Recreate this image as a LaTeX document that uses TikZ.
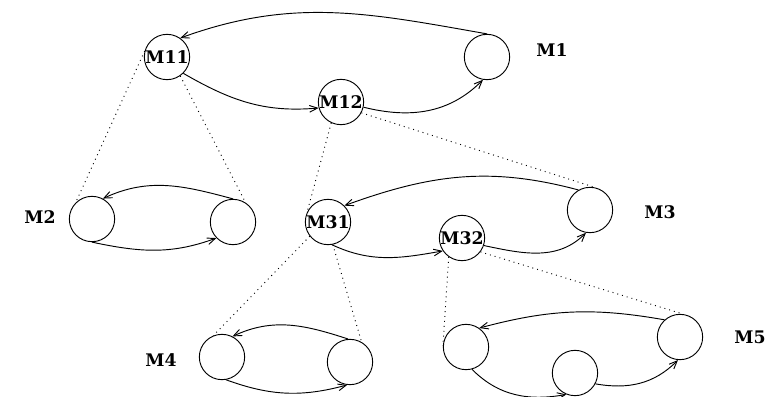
\documentclass[tikz,border=0pt]{standalone}
\usepackage{fontspec}
\setmainfont{DejaVu Serif}
\usetikzlibrary{arrows.meta}

\tikzset{
  mach/.style={draw, circle, minimum size=34pt, inner sep=0pt, line width=0.7pt,
    font=\fontsize{13}{15}\selectfont\bfseries},
  mtitle/.style={font=\fontsize{13}{15}\selectfont\bfseries},
  flow/.style={line width=0.7pt, -{Straight Barb[length=6pt,width=5pt]}},
  link/.style={line width=0.7pt, dash pattern=on 0.7pt off 3pt}
}

\begin{document}
\begin{tikzpicture}[x=0.75pt, y=-0.75pt] % pixel coordinates, y downwards

        \useasboundingbox (0,0) rectangle (767,396);

        % Machines
        \node[mach] (m11) at (167,57) {M11};
        \node[mach] (m12) at (341,102) {M12};
        \node[mach] (m1)  at (487,57) {};

        \node[mach] (m2a) at (92,219) {};
        \node[mach] (m2b) at (233,222) {};

        \node[mach] (m31) at (328,222) {M31};
        \node[mach] (m32) at (462,238) {M32};
        \node[mach] (m3)  at (590,210) {};

        \node[mach] (m4a) at (222,357) {};
        \node[mach] (m4b) at (350,362) {};

        \node[mach] (m5a) at (466,347) {};
        \node[mach] (m5b) at (575,373) {};
        \node[mach] (m5c) at (680,337) {};

        % Names
        \node[mtitle] (n1) at (552,50) {M1};
        \node[mtitle] (n2) at (40,217) {M2};
        \node[mtitle] (n3) at (660,212) {M3};
        \node[mtitle] (n4) at (161,360) {M4};
        \node[mtitle] (n5) at (750,337) {M5};

        % Transitions
        \draw[flow] (m1.north) to[out=170, in=20] (m11.55);
        \draw[flow] (m11.-45) to[out=-30, in=185] (m12.195);
        \draw[flow] (m12.-13) to[out=-14, in=-135] (m1.-100);

        \draw[flow] (m2b.north) to[out=165, in=25] (m2a.62);
        \draw[flow] (m2a.south) to[out=-12, in=200] (m2b.-136);

        \draw[flow] (m3.120) to[out=165, in=20] (m31.45);
        \draw[flow] (m31.-80) to[out=-25, in=190] (m32.214);
        \draw[flow] (m32.-19) to[out=-12, in=-135] (m3.-100);

        \draw[flow] (m4b.95) to[out=162, in=25] (m4a.63);
        \draw[flow] (m4a.-80) to[out=-20, in=195] (m4b.-97);

        \draw[flow] (m5c.132) to[out=170, in=15] (m5a.55);
        \draw[flow] (m5a.-75) to[out=-45, in=190] (m5b.-112);
        \draw[flow] (m5b.-28) to[out=-10, in=-135] (m5c.-95);

        % Refinements
        \draw[link] (m11.165) -- (m2a.135);
        \draw[link] (m11.-55) -- (m2b.57);
        \draw[link] (m12.-115) -- (m31.155);
        \draw[link] (m12.-28) -- (m3.78);
        \draw[link] (m31.218) -- (m4a.112);
        \draw[link] (m31.-78) -- (m4b.60);
        \draw[link] (m32.-125) -- (m5a.177);
        \draw[link] (m32.-37) -- (m5c.82);

\end{tikzpicture}
\end{document}
